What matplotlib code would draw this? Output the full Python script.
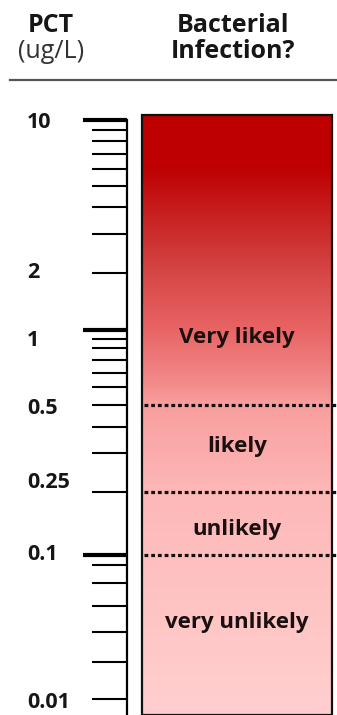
import numpy as np
import matplotlib
matplotlib.use("Agg")
import matplotlib.pyplot as plt
from matplotlib.ticker import FixedLocator, NullFormatter
from matplotlib.patches import Rectangle
from matplotlib.colors import to_rgb
from matplotlib.transforms import offset_copy

# ---------------- data ----------------
header_left = ["PCT", "(ug/L)"]
header_right = ["Bacterial", "Infection?"]

major_ticks = [10, 1, 0.1]
minor_ticks = [9, 8, 7, 6, 5, 4, 3, 2,
               0.92, 0.85, 0.76, 0.67, 0.59, 0.5, 0.42, 0.34, 0.25,
               0.085, 0.064, 0.044, 0.029, 0.018, 0.01]
tick_label_vals = [10, 2, 1, 0.5, 0.25, 0.1, 0.01]
tick_label_text = ["10", "2", "1", "0.5", "0.25", "0.1", "0.01"]

thresholds = [0.5, 0.25, 0.1]
region_names = ["Very likely", "likely", "unlikely", "very unlikely"]
region_label_vals = [0.93, 0.36, 0.145, 0.034]

bar_top = 10.5
grad_vals = [10, 6, 3, 2, 1, 0.6, 0.5, 0.25, 0.1, 0.01]
grad_cols = ["#be0000", "#be0000", "#cc2d2d", "#d64646", "#e86464",
             "#f38c8c", "#f89e9e", "#fdb7b7", "#febebe", "#ffcdcd"]

# label nudges (px, positive = down) as drawn in the original
label_nudge_px = [2, -1, 11, 3, -10, 0, 3]

# ---------------- scale (hand-drawn, non-uniform log axis) ----------------
knot_vals = np.array([10, 2, 1, 0.5, 0.25, 0.1, 0.01])
knot_pos = np.array([120, 273, 330, 405, 492, 555, 699], dtype=float)
knot_t = -np.log10(knot_vals)

def _t_to_p(t):
    p = np.interp(t, knot_t, knot_pos)
    s0 = (knot_pos[1] - knot_pos[0]) / (knot_t[1] - knot_t[0])
    s1 = (knot_pos[-1] - knot_pos[-2]) / (knot_t[-1] - knot_t[-2])
    p = np.where(t < knot_t[0], knot_pos[0] + (t - knot_t[0]) * s0, p)
    p = np.where(t > knot_t[-1], knot_pos[-1] + (t - knot_t[-1]) * s1, p)
    return p

def _p_to_t(p):
    t = np.interp(p, knot_pos, knot_t)
    s0 = (knot_t[1] - knot_t[0]) / (knot_pos[1] - knot_pos[0])
    s1 = (knot_t[-1] - knot_t[-2]) / (knot_pos[-1] - knot_pos[-2])
    t = np.where(p < knot_pos[0], knot_t[0] + (p - knot_pos[0]) * s0, t)
    t = np.where(p > knot_pos[-1], knot_t[-1] + (p - knot_pos[-1]) * s1, t)
    return t

def fwd(v):
    v = np.asarray(v, dtype=float)
    t = -np.log10(np.clip(v, 1e-9, None))
    return -_t_to_p(t)

def inv(y):
    y = np.asarray(y, dtype=float)
    return 10.0 ** (-_p_to_t(-y))

W, H = 337, 715
fig = plt.figure(figsize=(W / 100, H / 100), dpi=100)
fig.patch.set_facecolor("white")

ylo, yhi = float(inv(-H)), float(inv(0))

ax = fig.add_axes([0, 0, 1, 1])
ax.set_yscale("function", functions=(fwd, inv))
ax.set_xlim(0, W)
ax.set_ylim(ylo, yhi)
ax.axis("off")

FONT = ["Open Sans", "DejaVu Sans"]
TXT = "#161616"

# header
fig.text(51 / W, 1 - 25 / H, header_left[0], ha="center", va="center",
         fontsize=18, fontweight="bold", family=FONT, color=TXT)
fig.text(51 / W, 1 - 51 / H, header_left[1], ha="center", va="center",
         fontsize=18, family=FONT, color="#333333")
fig.text(233 / W, 1 - 26 / H, header_right[0], ha="center", va="center",
         fontsize=18, fontweight="bold", family=FONT, color=TXT)
fig.text(233 / W, 1 - 51 / H, header_right[1], ha="center", va="center",
         fontsize=18, fontweight="bold", family=FONT, color=TXT)
fig.add_artist(plt.Line2D([10 / W, 1], [1 - 80 / H, 1 - 80 / H],
                          transform=fig.transFigure, color="#555555", lw=1.6))

# gradient bar
yedges = np.geomspace(ylo, bar_top, 500)
ymid = np.sqrt(yedges[:-1] * yedges[1:])
gp = fwd(np.array(grad_vals))[::-1]
gc = np.array([to_rgb(c) for c in grad_cols])[::-1]
ym = fwd(ymid)
rgb = np.stack([np.interp(ym, gp, gc[:, i]) for i in range(3)], axis=-1)
xedges = np.array([142, 332])
ax.pcolormesh(xedges, yedges, rgb[:, None, :], shading="flat", zorder=1)
ax.add_patch(Rectangle((142, ylo), 332 - 142, bar_top - ylo, fill=False,
                       edgecolor="#111111", lw=1.6, zorder=3))

# thresholds
for t in thresholds:
    ax.plot([144, W], [t, t], color="#111111", lw=2.3,
            linestyle=(0, (1.2, 0.9)), solid_capstyle="butt",
            dash_capstyle="butt", zorder=4)

# region labels
for name, v in zip(region_names, region_label_vals):
    ax.text(237, v, name, ha="center", va="center", fontsize=16,
            fontweight="bold", family=FONT, color="#1a1010", zorder=5)

# tick labels
for lab, v, dy in zip(tick_label_text, tick_label_vals, label_nudge_px):
    tr = offset_copy(ax.transData, fig=fig, x=0, y=-dy, units="dots")
    ax.text(27, v, lab, ha="left", va="center", fontsize=15.5,
            fontweight="bold", family=FONT, color=TXT, transform=tr)

# scale axis
ax2 = fig.add_axes([127 / W, 0, 0.002, 1])
ax2.set_yscale("function", functions=(fwd, inv))
ax2.set_ylim(ylo, yhi)
ax2.patch.set_visible(False)
for s in ["right", "top", "bottom"]:
    ax2.spines[s].set_visible(False)
ax2.spines["left"].set_linewidth(1.6)
ax2.spines["left"].set_bounds(ylo, 10)
ax2.set_xticks([])
ax2.yaxis.set_major_locator(FixedLocator(major_ticks))
ax2.yaxis.set_minor_locator(FixedLocator(minor_ticks))
ax2.yaxis.set_major_formatter(NullFormatter())
ax2.yaxis.set_minor_formatter(NullFormatter())
ax2.tick_params(axis="y", which="major", length=44 * 0.72, width=3.0, color="#000000")
ax2.tick_params(axis="y", which="minor", length=35 * 0.72, width=1.5, color="#000000")

fig.savefig("out.png", dpi=100, facecolor="white")
